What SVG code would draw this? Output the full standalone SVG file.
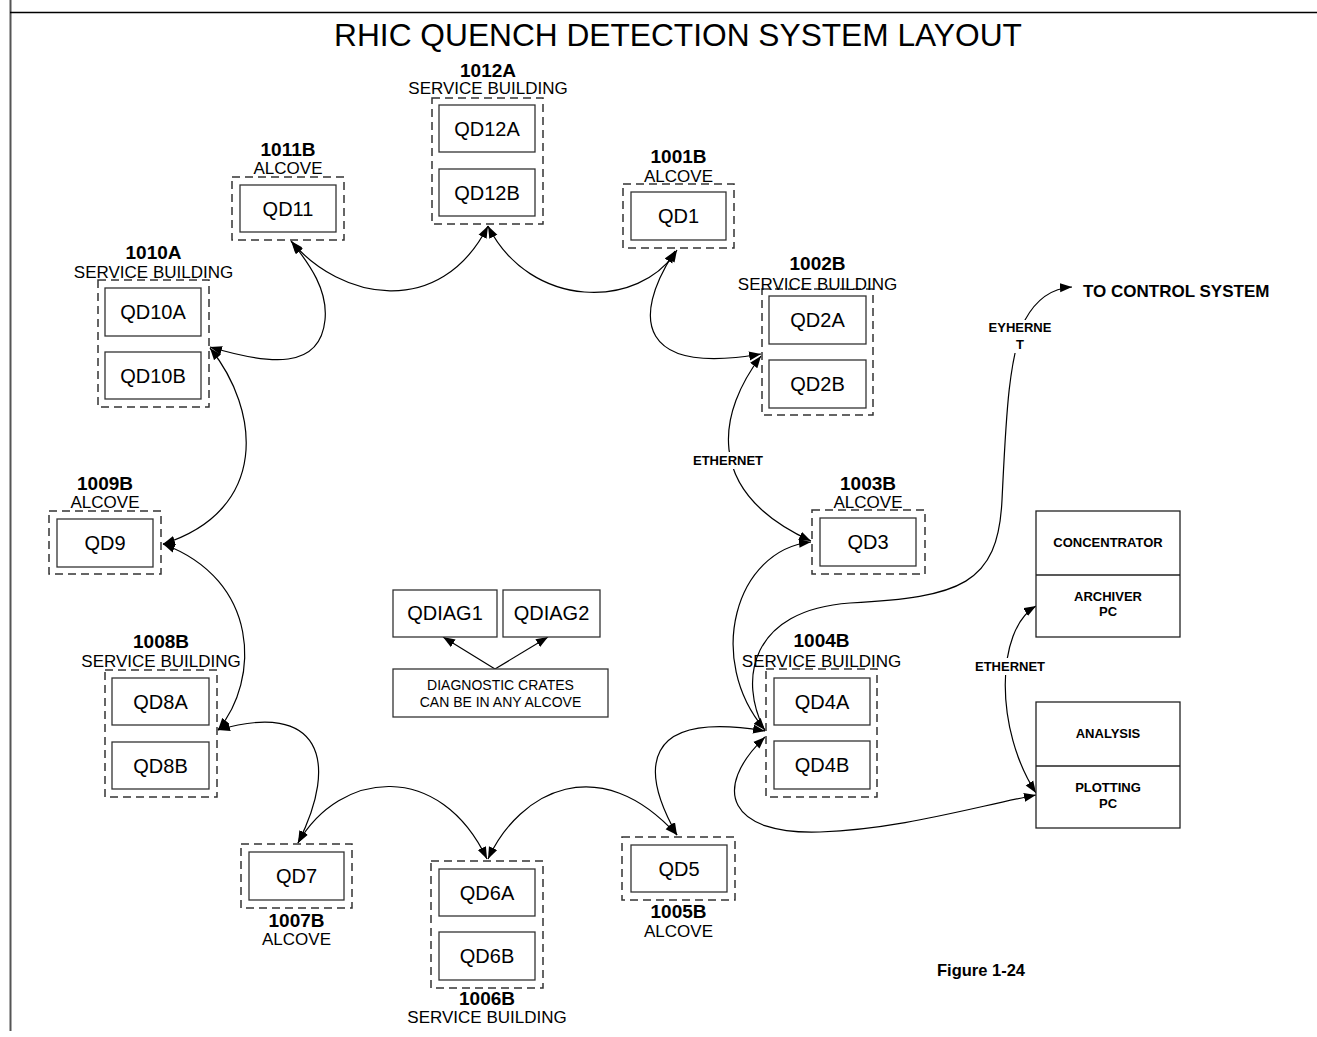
<svg xmlns="http://www.w3.org/2000/svg" width="1317" height="1037" viewBox="0 0 1317 1037">
<style>
text{font-family:"Liberation Sans",Arial,sans-serif;fill:#000}
.t{font-size:31.7px}
.site{font-size:19px;font-weight:bold;text-anchor:middle}
.kind{font-size:17px;text-anchor:middle}
.qd{font-size:20px;text-anchor:middle}
.sm{font-size:14px;text-anchor:middle}
.b13{font-size:13px;font-weight:bold;text-anchor:middle}
.dash{fill:none;stroke:#333;stroke-width:1.5;stroke-dasharray:8,5}
.box{fill:#fff;stroke:#333;stroke-width:1.3}
.wbox{fill:#fff;stroke:#222;stroke-width:1.3}
.c{fill:none;stroke:#000;stroke-width:1.2}
.ab{marker-start:url(#ah);marker-end:url(#ah)}
.ae{marker-end:url(#ah)}
</style>
<defs>
<marker id="ah" markerUnits="userSpaceOnUse" markerWidth="12" markerHeight="10" refX="12" refY="4.5" orient="auto-start-reverse" viewBox="0 0 12 9">
<path d="M0,0 L12,4.5 L0,9 z" fill="#000"/>
</marker>
</defs>
<rect width="1317" height="1037" fill="#fff"/>
<g id="frame">
<line x1="10.5" y1="0" x2="10.5" y2="1031" stroke="#555" stroke-width="2"/>
<line x1="10" y1="12.5" x2="1317" y2="12.5" stroke="#000" stroke-width="1.5"/>
</g>
<text class="t" x="678" y="46" text-anchor="middle">RHIC QUENCH DETECTION SYSTEM LAYOUT</text>

<g id="connectors">
<path class="c ab" d="M291,241 C340,300 440,320 488,226"/>
<path class="c ab" d="M488,226 C530,310 640,310 677,250"/>
<path class="c ab" d="M675,251 C630,320 640,375 761,354"/>
<path class="c ab" d="M761,356 C720,410 700,490 811,541"/>
<path class="c ab" d="M811,542 C735,550 705,660 765,730"/>
<path class="c ab" d="M677,835 C640,770 640,710 765,731"/>
<path class="c ab" d="M488,859 C520,790 600,750 677,835"/>
<path class="c ab" d="M298,843 C340,770 440,760 487,859"/>
<path class="c ab" d="M218,730 C320,700 340,760 298,843"/>
<path class="c ab" d="M163,544 C260,580 260,680 218,730"/>
<path class="c ab" d="M210,348 C260,410 270,510 163,544"/>
<path class="c ab" d="M210,347 C270,365 320,370 325,320 C328,290 310,265 292,242"/>
<path class="c ae" d="M765,731 C738,680 750,610 850,603 C960,597 998,585 1002,500 C1006,420 1008,360 1025,320 C1038,296 1055,288 1072,287"/>
<path class="c ab" d="M765,737 C710,790 730,835 820,832 C900,829 970,808 1036,795"/>
<path class="c ab" d="M1036,606 C995,630 995,730 1036,793"/>
<path class="c ae" d="M495,669 L443,637"/>
<path class="c ae" d="M495,669 L548,637"/>
</g>

<g id="labels">
<rect x="690" y="452" width="77" height="17" fill="#fff"/>
<text class="b13" x="728" y="465">ETHERNET</text>
<rect x="970" y="658" width="78" height="17" fill="#fff"/>
<text class="b13" x="1010" y="671">ETHERNET</text>
<rect x="988" y="320" width="66" height="33" fill="#fff"/>
<text class="b13" x="1020" y="332">EYHERNE</text>
<text class="b13" x="1020" y="349">T</text>
<text x="1083" y="297" font-size="17" font-weight="bold">TO CONTROL SYSTEM</text>
<text x="937" y="976" font-size="16.5" font-weight="bold">Figure 1-24</text>
</g>

<g id="n1012A">
<rect class="dash" x="432" y="98" width="111" height="126"/>
<rect class="box" x="439" y="105" width="96" height="47"/>
<rect class="box" x="439" y="169" width="96" height="47"/>
<text class="site" x="488" y="77">1012A</text>
<text class="kind" x="488" y="94">SERVICE BUILDING</text>
<text class="qd" x="487" y="135.5">QD12A</text>
<text class="qd" x="487" y="199.5">QD12B</text>
</g>
<g id="n1011B">
<rect class="dash" x="232" y="177" width="112" height="63"/>
<rect class="box" x="240" y="185" width="96" height="47"/>
<text class="site" x="288" y="156">1011B</text>
<text class="kind" x="288" y="174">ALCOVE</text>
<text class="qd" x="288" y="216">QD11</text>
</g>
<g id="n1001B">
<rect class="dash" x="623" y="184" width="111" height="64"/>
<rect class="box" x="631" y="192" width="95" height="48"/>
<text class="site" x="678.5" y="163">1001B</text>
<text class="kind" x="678.5" y="182">ALCOVE</text>
<text class="qd" x="678.5" y="223">QD1</text>
</g>
<g id="n1002B">
<rect class="dash" x="762" y="289" width="111" height="126"/>
<rect class="box" x="769" y="296" width="97" height="48"/>
<rect class="box" x="769" y="360" width="97" height="48"/>
<text class="site" x="817.5" y="270">1002B</text>
<text class="kind" x="817.5" y="290">SERVICE BUILDING</text>
<text class="qd" x="817.5" y="327">QD2A</text>
<text class="qd" x="817.5" y="391">QD2B</text>
</g>
<g id="n1010A">
<rect class="dash" x="98" y="280" width="111" height="127"/>
<rect class="box" x="105" y="288" width="96" height="48"/>
<rect class="box" x="105" y="352" width="96" height="47"/>
<text class="site" x="153.5" y="259">1010A</text>
<text class="kind" x="153.5" y="278">SERVICE BUILDING</text>
<text class="qd" x="153" y="319">QD10A</text>
<text class="qd" x="153" y="383">QD10B</text>
</g>
<g id="n1009B">
<rect class="dash" x="49" y="511" width="112" height="63"/>
<rect class="box" x="57" y="519" width="96" height="48"/>
<text class="site" x="105" y="490">1009B</text>
<text class="kind" x="105" y="508">ALCOVE</text>
<text class="qd" x="105" y="550">QD9</text>
</g>
<g id="n1003B">
<rect class="dash" x="812" y="510" width="113" height="64"/>
<rect class="box" x="820" y="518" width="96" height="48"/>
<text class="site" x="868" y="490">1003B</text>
<text class="kind" x="868" y="508">ALCOVE</text>
<text class="qd" x="868" y="549">QD3</text>
</g>
<g id="n1008B">
<rect class="dash" x="105" y="670" width="112" height="127"/>
<rect class="box" x="112" y="678" width="97" height="47"/>
<rect class="box" x="112" y="742" width="97" height="47"/>
<text class="site" x="161" y="648">1008B</text>
<text class="kind" x="161" y="667">SERVICE BUILDING</text>
<text class="qd" x="160.5" y="708.5">QD8A</text>
<text class="qd" x="160.5" y="772.5">QD8B</text>
</g>
<g id="n1004B">
<rect class="dash" x="766" y="669" width="111" height="128"/>
<rect class="box" x="774" y="678" width="96" height="47"/>
<rect class="box" x="774" y="741" width="96" height="48"/>
<text class="site" x="821.5" y="647">1004B</text>
<text class="kind" x="821.5" y="667">SERVICE BUILDING</text>
<text class="qd" x="822" y="708.5">QD4A</text>
<text class="qd" x="822" y="772">QD4B</text>
</g>
<g id="n1007B">
<rect class="dash" x="241" y="844" width="111" height="64"/>
<rect class="box" x="249" y="852" width="95" height="48"/>
<text class="qd" x="296.5" y="883">QD7</text>
<text class="site" x="296.5" y="927">1007B</text>
<text class="kind" x="296.5" y="945">ALCOVE</text>
</g>
<g id="n1006B">
<rect class="dash" x="431" y="861" width="112" height="127"/>
<rect class="box" x="439" y="869" width="96" height="47"/>
<rect class="box" x="439" y="932" width="96" height="48"/>
<text class="qd" x="487" y="899.5">QD6A</text>
<text class="qd" x="487" y="963">QD6B</text>
<text class="site" x="487" y="1005">1006B</text>
<text class="kind" x="487" y="1023">SERVICE BUILDING</text>
</g>
<g id="n1005B">
<rect class="dash" x="622" y="837" width="113" height="63"/>
<rect class="box" x="631" y="845" width="96" height="47"/>
<text class="qd" x="679" y="875.5">QD5</text>
<text class="site" x="678.5" y="918">1005B</text>
<text class="kind" x="678.5" y="937">ALCOVE</text>
</g>
<g id="qdiag1">
<rect class="box" x="393" y="590" width="104" height="47"/>
<text class="qd" x="445" y="620">QDIAG1</text>
</g>
<g id="qdiag2">
<rect class="box" x="503" y="590" width="97" height="47"/>
<text class="qd" x="551.5" y="620">QDIAG2</text>
</g>
<g id="diagnote">
<rect class="box" x="393" y="669" width="215" height="48"/>
<text class="sm" x="500.5" y="690">DIAGNOSTIC CRATES</text>
<text class="sm" x="500.5" y="707">CAN BE IN ANY ALCOVE</text>
</g>
<g id="archiver">
<rect class="wbox" x="1036" y="511" width="144" height="126"/>
<line x1="1036" y1="575" x2="1180" y2="575" stroke="#222" stroke-width="1.3"/>
<text class="b13" x="1108" y="547">CONCENTRATOR</text>
<text class="b13" x="1108" y="601">ARCHIVER</text>
<text class="b13" x="1108" y="616">PC</text>
</g>
<g id="plotting">
<rect class="wbox" x="1036" y="702" width="144" height="126"/>
<line x1="1036" y1="766" x2="1180" y2="766" stroke="#222" stroke-width="1.3"/>
<text class="b13" x="1108" y="738">ANALYSIS</text>
<text class="b13" x="1108" y="792">PLOTTING</text>
<text class="b13" x="1108" y="808">PC</text>
</g>
</svg>
